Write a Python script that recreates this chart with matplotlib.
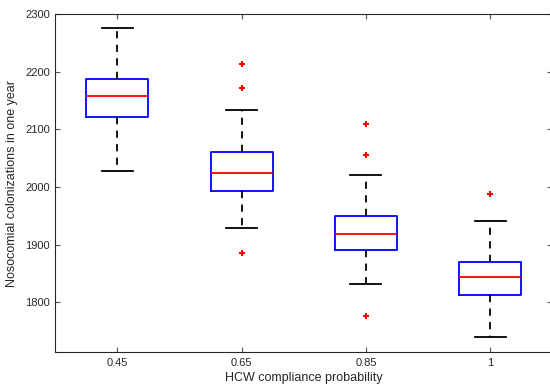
"""
Boxplot: nosocomial colonizations per year vs. HCW compliance probability.
Werte aus der Vorlage abgelesen (Quartile, Whisker, Ausreisser).
"""
import matplotlib
matplotlib.use("Agg")
import matplotlib.pyplot as plt

# ── Daten ────────────────────────────────────────────────────────────────────
compliance = ["0.45", "0.65", "0.85", "1"]
whisker_lo = [2027, 1928, 1832, 1740]
q1 = [2121, 1993, 1890, 1813]
median = [2157, 2024, 1918, 1843]
q3 = [2187, 2060, 1949, 1870]
whisker_hi = [2276, 2134, 2021, 1941]
outliers = [[], [2213, 2172, 1886], [2109, 2056, 1776], [1987]]

y_ticks = [1800, 1900, 2000, 2100, 2200, 2300]

plt.rcParams["font.family"] = ["Liberation Sans", "DejaVu Sans"]

stats = [
    dict(label=lab, whislo=wl, q1=a, med=m, q3=b, whishi=wh, fliers=fl)
    for lab, wl, a, m, b, wh, fl in zip(
        compliance, whisker_lo, q1, median, q3, whisker_hi, outliers
    )
]

fig = plt.figure(figsize=(5.5, 3.9), dpi=100)
ax = fig.add_axes([55.3 / 550, 37.7 / 390, 497 / 550, 338.3 / 390])

ax.bxp(
    stats,
    positions=range(1, len(stats) + 1),
    widths=0.5,
    boxprops=dict(color="#0000ff", linewidth=1.3),
    medianprops=dict(color="#ff0000", linewidth=1.3),
    whiskerprops=dict(color="black", linewidth=1.3, linestyle=(0, (4, 3.5))),
    capprops=dict(color="black", linewidth=1.3),
    flierprops=dict(marker="+", markeredgecolor="#ff0000", markersize=4,
                    markeredgewidth=1.5, linestyle="none"),
)

ax.set_xlim(0.5, 4.5)
ax.set_ylim(1713, 2300)
ax.set_yticks(y_ticks)
ax.set_xticks(range(1, len(compliance) + 1), compliance)

ax.tick_params(direction="in", length=3.5, width=0.8, colors="#555555",
               labelcolor="#262626", labelsize=8, top=True, right=True, pad=4)
for s in ax.spines.values():
    s.set_color("#262626")
    s.set_linewidth(0.8)

ax.set_xlabel("HCW compliance probability", fontsize=9, color="#262626",
              labelpad=3)
ax.set_ylabel("Nosocomial colonizations in one year", fontsize=9,
              color="#262626", labelpad=5)

fig.savefig("out.png", dpi=100)
